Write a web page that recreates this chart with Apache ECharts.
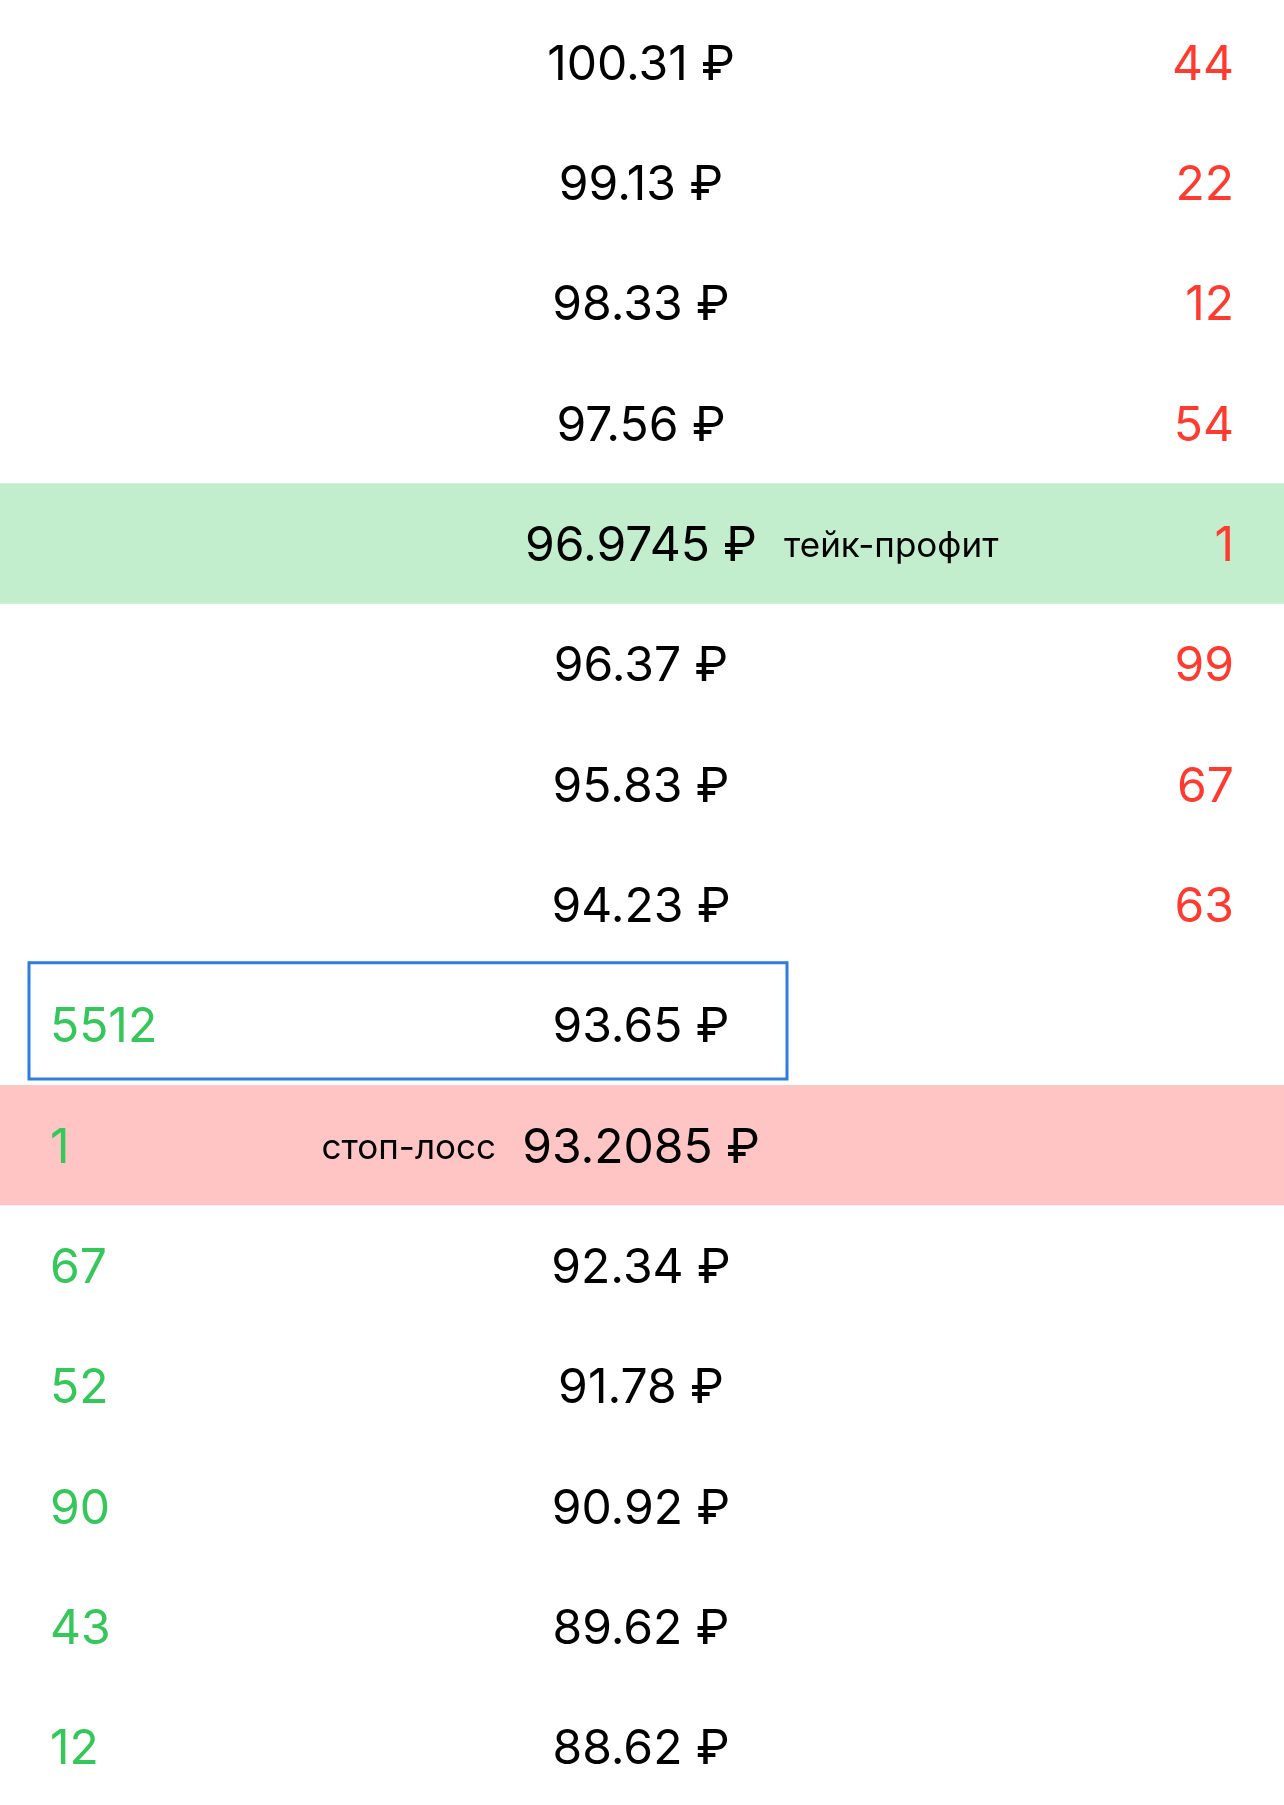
<!DOCTYPE html>
<html>
<head>
<meta charset="utf-8">
<script src="https://cdn.jsdelivr.net/npm/echarts@6/dist/echarts.min.js"></script>
<style>html,body{margin:0;padding:0;background:#fff}#chart{width:1284px;height:1805px}</style>
</head>
<body>
<div id="chart"></div>
<script>
// стакан заявок
var prices = ['100.31', '99.13', '98.33', '97.56', '96.9745', '96.37', '95.83', '94.23', '93.65', '93.2085', '92.34', '91.78', '90.92', '89.62', '88.62'];
var asks = [44, 22, 12, 54, 1, 99, 67, 63, null, null, null, null, null, null, null];
var bids = [null, null, null, null, null, null, null, null, 5512, 1, 67, 52, 90, 43, 12];
var takeProfitRow = 4;
var stopLossRow = 9;
var currentRow = 8;

var rows = prices.map(function (p, i) { return String(i); });
var font = 'Inter, Roboto, sans-serif';

var myChart = echarts.init(document.getElementById('chart'));

var bands = [
    [0, 1284, takeProfitRow, 'tp'],
    [0, 1284, stopLossRow, 'sl'],
    [29, 787, currentRow, 'box']
];

function textSeries(data, color, align, size) {
    return {
        type: 'scatter',
        symbolSize: 0,
        data: data,
        silent: true,
        itemStyle: { opacity: 1 },
        label: {
            show: true,
            position: 'inside',
            align: align,
            verticalAlign: 'middle',
            offset: [0, 5],
            color: color,
            opacity: 1,
            fontSize: size || 48,
            fontFamily: font,
            formatter: function (p) { return p.value[2]; }
        }
    };
}

var option = {
    animation: false,
    grid: { left: 0, right: 0, top: 0, bottom: 0 },
    xAxis: { type: 'value', min: 0, max: 1284, show: false },
    yAxis: { type: 'category', data: rows, inverse: true, show: false },
    series: [
        {
            type: 'custom',
            silent: true,
            data: bands,
            renderItem: function (params, api) {
                var a = api.coord([api.value(0), api.value(2)]);
                var b = api.coord([api.value(1), api.value(2)]);
                var h = api.size([0, 1])[1];
                var kind = bands[params.dataIndex][3];
                if (kind === 'box') {
                    return {
                        type: 'rect',
                        shape: { x: a[0], y: a[1] - h / 2, width: b[0] - a[0], height: h - 4 },
                        style: { fill: 'none', stroke: '#2f7de1', lineWidth: 3 }
                    };
                }
                return {
                    type: 'rect',
                    shape: { x: a[0], y: a[1] - h / 2 + 2, width: b[0] - a[0], height: h },
                    style: { fill: kind === 'tp' ? '#c2eece' : '#ffc4c4' }
                };
            }
        },
        textSeries(prices.map(function (p, i) { return [641, i, p + ' ₽']; }), '#000', 'center'),
        textSeries(asks.map(function (v, i) { return v == null ? null : [1234, i, v]; }).filter(Boolean), '#ff3b30', 'right'),
        textSeries(bids.map(function (v, i) { return v == null ? null : [50, i, v]; }).filter(Boolean), '#34c759', 'left'),
        textSeries([[784, takeProfitRow, 'тейк-профит'], [496, stopLossRow, 'стоп-лосс']], '#000', 'left', 35)
    ]
};
option.series[4].data = option.series[4].data.map(function (d, i) {
    return { value: d, label: { align: i === 0 ? 'left' : 'right' } };
});
myChart.setOption(option);
</script>
</body>
</html>
